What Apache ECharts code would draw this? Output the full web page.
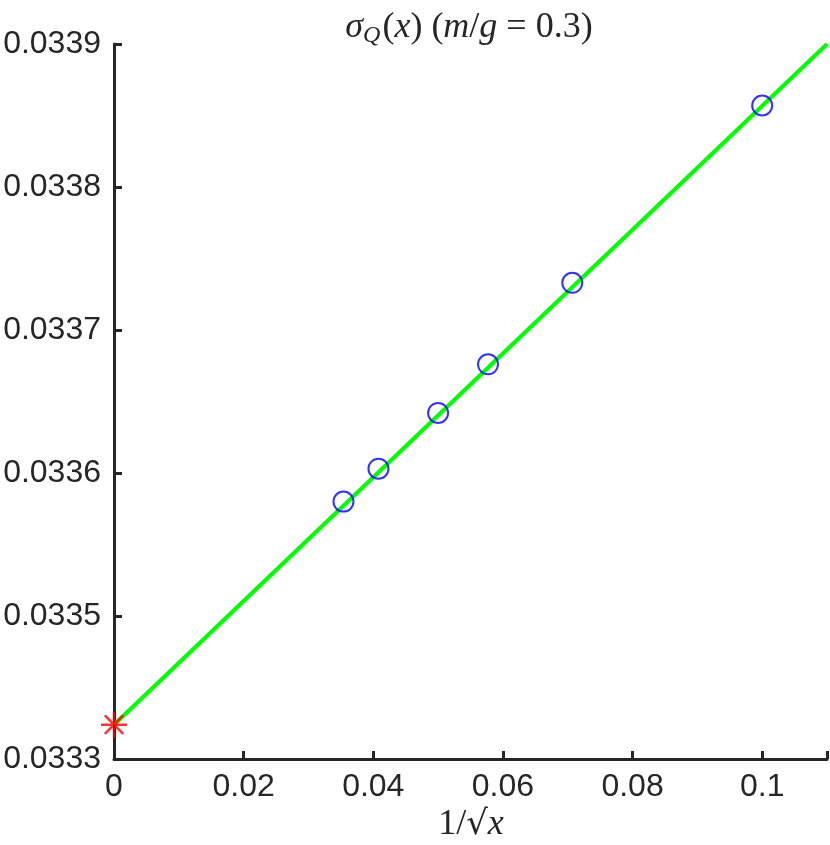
<!DOCTYPE html>
<html>
<head>
<meta charset="utf-8">
<script src="https://cdn.jsdelivr.net/npm/echarts@6/dist/echarts.min.js"></script>
<style>
html,body{margin:0;padding:0;background:#fff;}
#chart{width:830px;height:845px;}
</style>
</head>
<body>
<div id="chart"></div>
<script>
// Data
const invSqrtX = [0.0354, 0.0408, 0.0500, 0.0577, 0.0707, 0.1000];
const sigmaQ   = [0.033580, 0.033603, 0.033642, 0.033676, 0.033733, 0.033857];
const fitX     = [0, 0.11];
const fitY     = [0.033424, 0.0339];
const extrapX  = [0];
const extrapY  = [0.033424];
const xTickValues = [0, 0.02, 0.04, 0.06, 0.08, 0.1];
const xTickLabels = ['0', '0.02', '0.04', '0.06', '0.08', '0.1'];
const yTickValues = [0.0334, 0.0335, 0.0336, 0.0337, 0.0338, 0.0339];
const yTickLabels = ['0.0333', '0.0335', '0.0336', '0.0337', '0.0338', '0.0339'];

function lookup(vals, labels, v) {
  for (let i = 0; i < vals.length; i++) {
    if (Math.abs(vals[i] - v) < 1e-9) return labels[i];
  }
  return '';
}

const chart = echarts.init(document.getElementById('chart'), null, {renderer: 'canvas'});
const textColor = '#262626';
const serif = '"Liberation Serif", "DejaVu Serif", serif';

chart.setOption({
  animation: false,
  backgroundColor: '#ffffff',
  grid: {left: 114, right: 0, top: 44, bottom: 86, containLabel: false},
  xAxis: {
    type: 'value', min: 0, max: 0.11, interval: 0.02,
    axisLine: {show: true, onZero: false, lineStyle: {color: textColor, width: 3}},
    axisTick: {show: true, inside: true, length: 8, lineStyle: {color: textColor, width: 3}},
    splitLine: {show: false},
    axisLabel: {
      color: textColor, fontSize: 32, fontFamily: '"Liberation Sans", Arial, sans-serif',
      margin: 12, showMaxLabel: true,
      formatter: v => lookup(xTickValues, xTickLabels, v)
    }
  },
  yAxis: {
    type: 'value', min: 0.0334, max: 0.0339, interval: 0.0001,
    axisLine: {show: true, onZero: false, lineStyle: {color: textColor, width: 3}},
    axisTick: {show: true, inside: true, length: 8, lineStyle: {color: textColor, width: 3}},
    splitLine: {show: false},
    axisLabel: {
      color: textColor, fontSize: 32, fontFamily: '"Liberation Sans", Arial, sans-serif',
      margin: 13,
      formatter: v => lookup(yTickValues, yTickLabels, v)
    }
  },
  graphic: [
    {
      type: 'text', x: 469, y: 28, z: 100,
      style: {
        text: '{i|σ}{sub|Q}{n|(}{i|x}{n|) (}{i|m}{n|/}{i|g}{n| = 0.3)}',
        align: 'center', verticalAlign: 'middle',
        rich: {
          i: {fontFamily: serif, fontStyle: 'italic', fontSize: 36, fill: textColor},
          n: {fontFamily: serif, fontSize: 36, fill: textColor},
          sub: {fontFamily: serif, fontStyle: 'italic', fontSize: 24, fill: textColor, verticalAlign: 'bottom', padding: [16, 2, 0, 0]}
        }
      }
    },
    {
      type: 'text', x: 471, y: 825, z: 100,
      style: {
        text: '{n|1/}{r|√}{i|x}',
        align: 'center', verticalAlign: 'middle',
        rich: {
          i: {fontFamily: serif, fontStyle: 'italic', fontSize: 36, fill: textColor, textDecoration: 'overline'},
          n: {fontFamily: serif, fontSize: 36, fill: textColor},
          r: {fontFamily: '"DejaVu Serif", serif', fontSize: 34, fill: textColor}
        }
      }
    }
  ],
  series: [
    {
      type: 'line',
      data: fitX.map((x, i) => [x, fitY[i]]),
      symbol: 'none',
      lineStyle: {color: '#00ff00', width: 4},
      z: 2
    },
    {
      type: 'scatter',
      data: invSqrtX.map((x, i) => [x, sigmaQ[i]]),
      symbol: 'circle',
      symbolSize: 20,
      itemStyle: {color: 'rgba(0,0,0,0)', borderColor: '#0000ff', borderWidth: 2},
      z: 3
    },
    {
      type: 'scatter',
      data: extrapX.map((x, i) => [x, extrapY[i]]),
      symbol: 'path://M0,-10 L0,10 M-10,0 L10,0 M-7.07,-7.07 L7.07,7.07 M-7.07,7.07 L7.07,-7.07',
      symbolSize: 26,
      itemStyle: {color: 'rgba(0,0,0,0)', borderColor: '#ff0000', borderWidth: 2.5},
      z: 4
    }
  ]
});
</script>
</body>
</html>
